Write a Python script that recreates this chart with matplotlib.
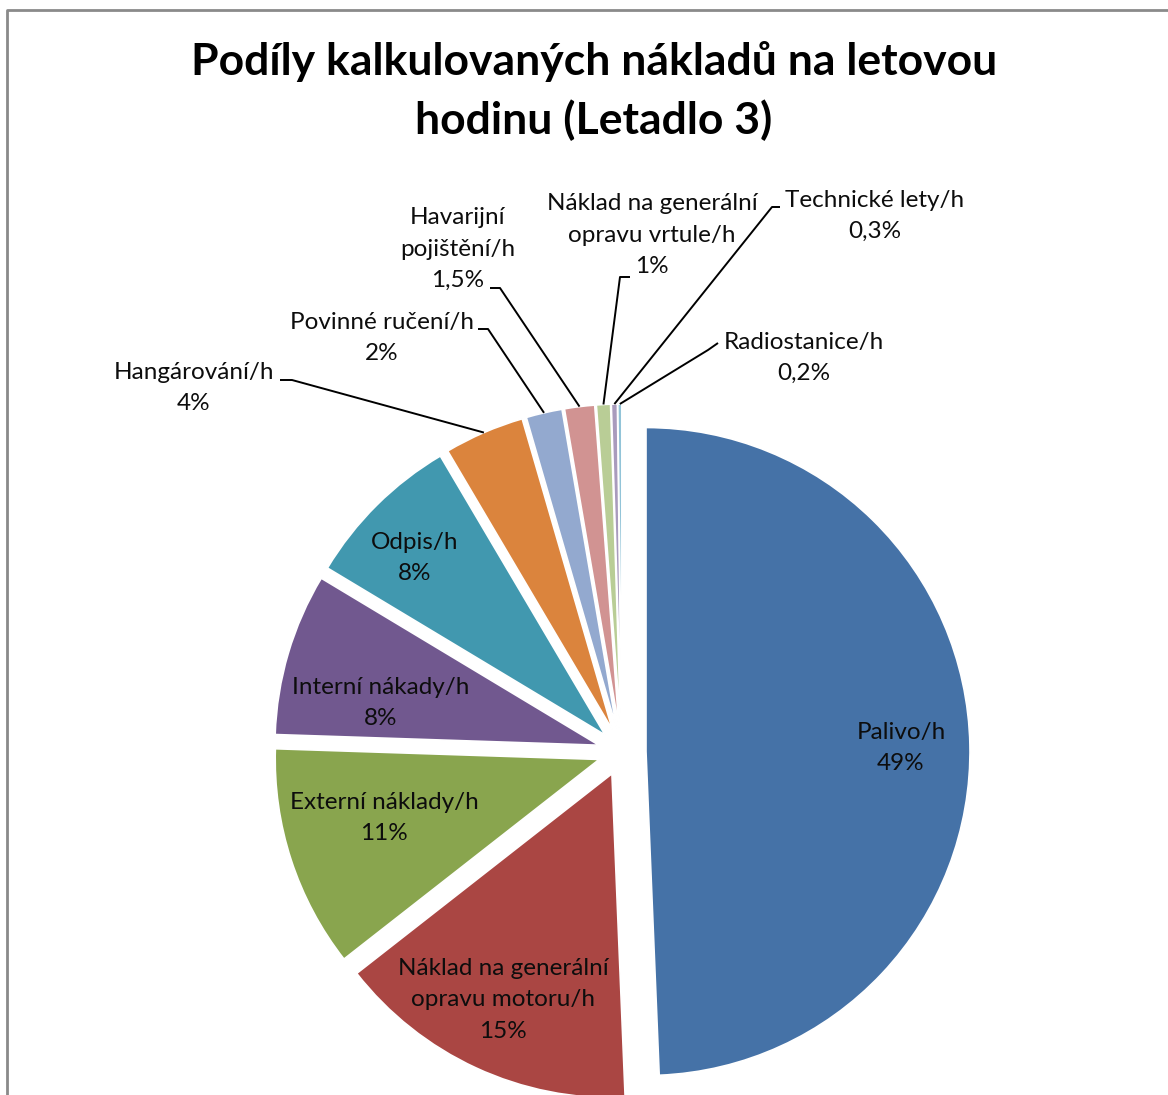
import numpy as np
import matplotlib
matplotlib.use("Agg")
import matplotlib.pyplot as plt

plt.rcParams["font.family"] = ["Lato", "DejaVu Sans"]

W, H = 1168, 1095

# --- data ---
names = ["Palivo/h", "Náklad na generální\nopravu motoru/h", "Externí náklady/h",
         "Interní nákady/h", "Odpis/h", "Hangárování/h", "Povinné ručení/h",
         "Havarijní\npojištění/h", "Náklad na generální\nopravu vrtule/h",
         "Technické lety/h", "Radiostanice/h"]
shares = [49.4, 15.1, 11.1, 8.1, 7.9, 4.0, 1.8, 1.5, 0.7, 0.3, 0.2]
pct_text = ["49%", "15%", "11%", "8%", "8%", "4%", "2%", "1,5%", "1%", "0,3%", "0,2%"]
colors = ["#4572A7", "#AA4643", "#89A54E", "#71588F", "#4198AF", "#DB843D",
          "#93A9CF", "#D19392", "#B9CD96", "#A99BBD", "#92C4D8"]

# --- layout (pixels, y measured from top) ---
center = (622, 752)
radius = 324
gap = 24
# inside labels: text centre
inside = {0: (901, 748), 1: (503, 1000), 2: (384, 818), 3: (381, 703), 4: (415, 558)}
# outside labels: text centre, elbow start, elbow end
outside = {
    5: ((194, 388), (280, 380), (292, 380)),
    6: ((382, 338), (478, 329), (488, 329)),
    7: ((458, 249), (490, 288), (500, 288)),
    8: ((652, 235), (630, 277), (620, 277)),
    9: ((875, 216), (780, 207), (772, 207)),
    10: ((804, 358), (718, 343), (708, 350)),
}

fig = plt.figure(figsize=(W / 100, H / 100), dpi=100)
ax = fig.add_axes([0, 0, 1, 1])

wedges, _ = ax.pie(shares, colors=colors, startangle=90, counterclock=False,
                   radius=radius, center=(center[0], H - center[1]),
                   explode=[gap] * len(shares),
                   wedgeprops=dict(edgecolor="white", linewidth=1.2))
ax.set_xlim(0, W)
ax.set_ylim(0, H)
ax.set_aspect("equal")
ax.axis("off")

fs = 17.5
ls = 1.6
for i, w in enumerate(wedges):
    label = names[i] + "\n" + pct_text[i]
    if i in inside:
        tx, ty = inside[i]
    else:
        (tx, ty), (sx, sy), (ex, ey) = outside[i]
        mid = np.deg2rad((w.theta1 + w.theta2) / 2)
        cx, cy = w.center
        ox, oy = cx + w.r * np.cos(mid), cy + w.r * np.sin(mid)
        ax.plot([sx, ex, ox], [H - sy, H - ey, oy], color="black", lw=1.4,
                solid_capstyle="butt")
    ax.text(tx, H - ty, label, ha="center", va="center", fontsize=fs,
            linespacing=ls, color="#0d0d0d")

# title
ax.text(594, H - 62, "Podíly kalkulovaných nákladů na letovou", ha="center", va="center",
        fontsize=32, fontweight="bold")
ax.text(594, H - 120, "hodinu (Letadlo 3)", ha="center", va="center",
        fontsize=32, fontweight="bold")

# chart frame (cropped)
ax.plot([7, 7, W], [0, H - 10, H - 10], color="#8a8a8a", lw=2, clip_on=False)

fig.savefig("out.png", dpi=100)
